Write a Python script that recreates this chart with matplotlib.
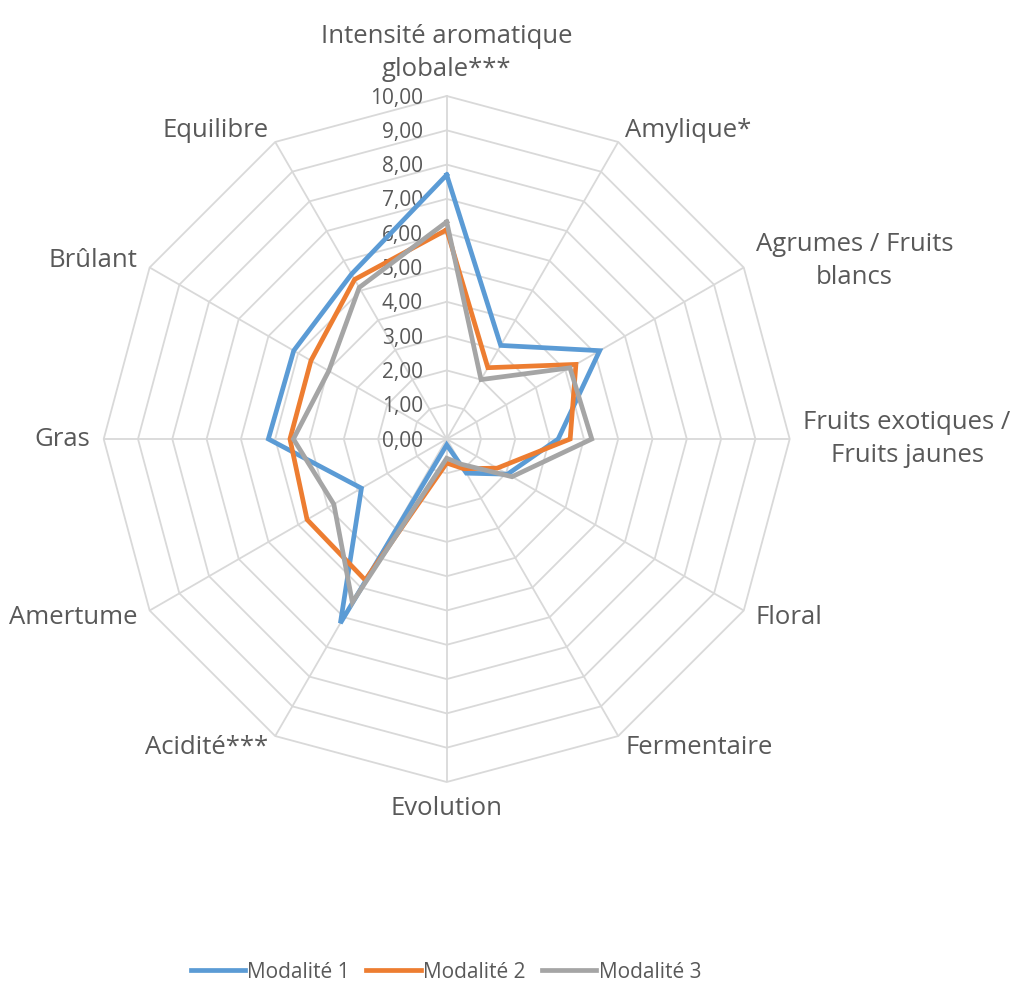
import numpy as np
import matplotlib
matplotlib.use("Agg")
import matplotlib.pyplot as plt

categories = [
    "Intensité aromatique\nglobale***",
    "Amylique*",
    "Agrumes / Fruits\nblancs",
    "Fruits exotiques /\nFruits jaunes",
    "Floral",
    "Fermentaire",
    "Evolution",
    "Acidité***",
    "Amertume",
    "Gras",
    "Brûlant",
    "Equilibre",
]
mod1 = [7.70, 3.15, 5.15, 3.25, 2.05, 1.15, 0.17, 6.20, 2.87, 5.20, 5.15, 5.55]
mod2 = [6.10, 2.40, 4.35, 3.60, 1.70, 1.00, 0.70, 4.75, 4.70, 4.57, 4.57, 5.37]
mod3 = [6.33, 2.00, 4.15, 4.23, 2.20, 0.85, 0.56, 5.50, 3.80, 4.47, 3.97, 5.10]
series_names = ["Modalité 1", "Modalité 2", "Modalité 3"]
series_colors = ["#5B9BD5", "#ED7D31", "#A5A5A5"]
ring_values = [0, 1, 2, 3, 4, 5, 6, 7, 8, 9, 10]
ring_labels = ["0,00", "1,00", "2,00", "3,00", "4,00", "5,00", "6,00",
               "7,00", "8,00", "9,00", "10,00"]

FONT = "Open Sans"
TXT = "#595959"
GRID = "#D9D9D9"

W, H = 1013, 984
fig = plt.figure(figsize=(W / 100, H / 100), dpi=100)
cx, cy, R = 446.7, 439.0, 343.0
ax = fig.add_axes([(cx - R) / W, (H - cy - R) / H, 2 * R / W, 2 * R / H],
                  projection="polar")
ax.set_theta_zero_location("N")
ax.set_theta_direction(-1)
ax.set_ylim(0, 10)
ax.grid(False)
ax.spines["polar"].set_visible(False)
ax.set_xticks([])
ax.set_yticks([])
ax.patch.set_alpha(0)

n = len(categories)
angles = np.linspace(0, 2 * np.pi, n, endpoint=False)
closed = np.concatenate([angles, angles[:1]])

# polygon grid
for rv in ring_values[1:]:
    ax.plot(closed, [rv] * (n + 1), color=GRID, lw=1.3, zorder=1, clip_on=False)
for a in angles:
    ax.plot([a, a], [0, 10], color=GRID, lw=1.3, zorder=1)

# series
for vals, name, col in zip([mod1, mod2, mod3], series_names, series_colors):
    v = list(vals) + [vals[0]]
    ax.plot(closed, v, color=col, lw=3.4, label=name, zorder=3,
            solid_joinstyle="miter", clip_on=False)

# ring tick labels (placed along the top spoke, right-aligned)
for rv, lab in zip(ring_values, ring_labels):
    ax.annotate(lab, xy=(0, rv), xytext=(-17, -1.5), textcoords="offset points",
                ha="right", va="center", fontsize=15, color=TXT, family=FONT,
                zorder=2)

# category labels
rl = 10.4
for a, lab in zip(angles, categories):
    deg = np.degrees(a) % 360
    if np.isclose(deg, 0):
        ha, va = "center", "bottom"
    elif np.isclose(deg, 180):
        ha, va = "center", "top"
    elif deg < 180:
        ha, va = "left", "center"
    else:
        ha, va = "right", "center"
    ax.text(a, rl, lab, ha=ha, va=va, multialignment="center",
            fontsize=18.5, color=TXT, family=FONT, linespacing=1.42)

leg = fig.legend(loc="center", bbox_to_anchor=(446 / W, 1 - 972 / H), ncol=3,
                 frameon=False, prop={"family": FONT, "size": 15},
                 handlelength=2.6, handletextpad=0.12, columnspacing=0.8)
for t in leg.get_texts():
    t.set_color(TXT)
for h in leg.get_lines():
    h.set_linewidth(3.4)

fig.savefig("out.png", dpi=100)
